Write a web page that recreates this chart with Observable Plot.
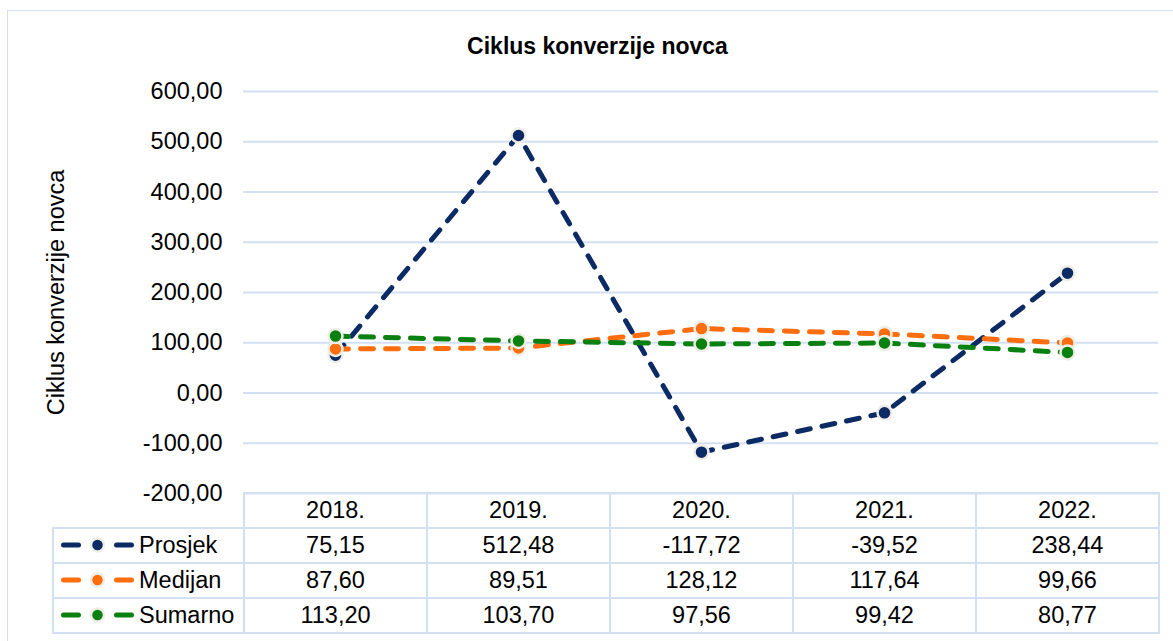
<!DOCTYPE html>
<html>
<head>
<meta charset="utf-8">
<script src="https://cdn.jsdelivr.net/npm/d3@7"></script>
<script src="https://cdn.jsdelivr.net/npm/@observablehq/plot@0.6"></script>
<style>
  html, body { margin: 0; padding: 0; background: #fff; }
  #wrap { position: relative; width: 1173px; height: 641px; font-family: "Liberation Sans", Arial, sans-serif; overflow: hidden; }
  #frame { position: absolute; left: 7px; top: 10px; width: 1200px; height: 700px; border: 1.5px solid #d5e0ee; box-sizing: border-box; }
  #title { position: absolute; left: 0; width: 1195px; top: 33px; text-align: center; font-size: 23px; font-weight: bold; color: #000; }
  #chart { position: absolute; left: 0; top: 0; }
  table { position: absolute; border-collapse: collapse; font-size: 23.5px; color: #000; table-layout: fixed; }
  td { border: 2px solid #d3e0f1; text-align: center; padding: 0; height: 33px; line-height: 33px; }
  td.empty { border: none; }
  td.lab { text-align: left; white-space: nowrap; }
  td.lab svg { vertical-align: middle; margin-right: 3px; position: relative; top: -2px; }
</style>
</head>
<body>
<div id="wrap">
  <div id="frame"></div>
  <div id="chart"></div>
  <div id="title">Ciklus konverzije novca</div>
</div>
<script>
const years = ["2018.", "2019.", "2020.", "2021.", "2022."];
const seriesNames = ["Prosjek", "Medijan", "Sumarno"];
const prosjek = [75.15, 512.48, -117.72, -39.52, 238.44];
const medijan = [87.60, 89.51, 128.12, 117.64, 99.66];
const sumarno = [113.20, 103.70, 97.56, 99.42, 80.77];
const colors = ["#0c2a63", "#ff6d0e", "#0a8010"];
const yTicks = [-200, -100, 0, 100, 200, 300, 400, 500, 600];

const seriesValues = [prosjek, medijan, sumarno];
const fmt = v => v.toFixed(2).replace(".", ",");

const W = 1173, H = 641;
const mL = 243, mR = 15, mT = 91, mB = 148;

const marks = [
  Plot.gridY(yTicks, {stroke: "#d3e0f1", strokeOpacity: 1, strokeWidth: 2}),
  Plot.axisY(yTicks, {tickSize: 0, tickPadding: 21, tickFormat: fmt, fontSize: 23.5, label: "Ciklus konverzije novca", labelAnchor: "center", labelArrow: false, labelOffset: 196})
];
seriesNames.forEach((name, i) => {
  const data = years.map((yr, j) => ({year: yr, value: seriesValues[i][j], series: name}));
  marks.push(Plot.line(data, {x: "year", y: "value", stroke: colors[i], strokeWidth: 5, strokeDasharray: "13,12", strokeLinecap: "round", curve: "linear"}));
  marks.push(Plot.dot(data, {x: "year", y: "value", r: 7, fill: colors[i], stroke: "#efeee6", strokeWidth: 2.5}));
});

const chart = Plot.plot({
  width: W, height: H,
  marginLeft: mL, marginRight: mR, marginTop: mT, marginBottom: mB,
  style: {fontFamily: "Liberation Sans, Arial, sans-serif", fontSize: "23.5px", color: "#000", background: "transparent"},
  x: {type: "point", domain: years, padding: 0.5, axis: null},
  y: {domain: [-200, 600]},
  marks
});
document.getElementById("chart").appendChild(chart);

// data table aligned with the x band layout
const bw = (W - mR - mL) / years.length;
const table = document.createElement("table");
table.style.left = "52px";
table.style.top = (H - mB - 1) + "px";
table.style.width = (W - mR - 52) + "px";
const colgroup = document.createElement("colgroup");
[mL - 52, ...years.map(() => bw)].forEach(w => { const col = document.createElement("col"); col.style.width = w + "px"; colgroup.appendChild(col); });
table.appendChild(colgroup);
const hdr = document.createElement("tr");
const e = document.createElement("td"); e.className = "empty"; hdr.appendChild(e);
years.forEach(y => { const td = document.createElement("td"); td.textContent = y; hdr.appendChild(td); });
table.appendChild(hdr);
seriesNames.forEach((name, i) => {
  const tr = document.createElement("tr");
  const lab = document.createElement("td"); lab.className = "lab";
  const c = colors[i];
  lab.innerHTML = `<svg width="82" height="18"><line x1="9.5" y1="9" x2="24.5" y2="9" stroke="${c}" stroke-width="5" stroke-linecap="round"/><circle cx="43.5" cy="9" r="6.5" fill="${c}" stroke="#efeee6" stroke-width="2.5"/><line x1="62.5" y1="9" x2="77.5" y2="9" stroke="${c}" stroke-width="5" stroke-linecap="round"/></svg>${name}`;
  tr.appendChild(lab);
  seriesValues[i].forEach(v => { const td = document.createElement("td"); td.textContent = fmt(v); tr.appendChild(td); });
  table.appendChild(tr);
});
document.getElementById("wrap").appendChild(table);
</script>
</body>
</html>
